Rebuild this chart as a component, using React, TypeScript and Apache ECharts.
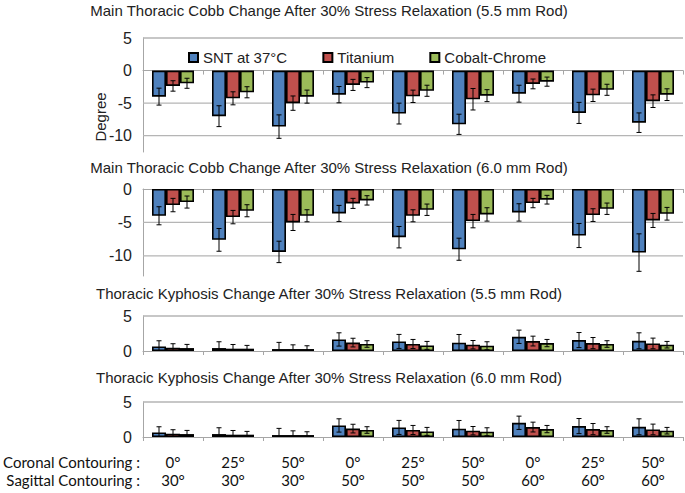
import React, { useEffect, useRef } from 'react';
import * as echarts from 'echarts';

// ---------- data ----------
const coronal = ['0°', '25°', '50°', '0°', '25°', '50°', '0°', '25°', '50°'];
const sagittal = ['30°', '30°', '30°', '50°', '50°', '50°', '60°', '60°', '60°'];
const seriesNames = ['SNT at 37°C', 'Titanium', 'Cobalt-Chrome'];

// Main Thoracic Cobb, 5.5 mm rod
const cobb55Snt = [-4.0, -7.0, -8.6, -3.7, -6.6, -8.25, -3.55, -6.5, -8.0];
const cobb55SntErr = [1.3, 1.6, 1.8, 1.25, 1.6, 1.55, 1.3, 1.62, 1.5];
const cobb55Ti = [-2.36, -4.26, -5.0, -2.2, -3.95, -4.4, -2.05, -3.8, -4.7];
const cobb55TiErr = [0.8, 1.0, 1.1, 0.85, 0.95, 1.65, 0.75, 0.95, 0.97];
const cobb55Cc = [-1.95, -3.33, -4.0, -1.85, -3.1, -3.85, -1.7, -2.95, -3.7];
const cobb55CcErr = [0.77, 0.85, 1.0, 0.77, 0.85, 0.92, 0.7, 0.85, 0.9];

// Main Thoracic Cobb, 6.0 mm rod
const cobb60Snt = [-4.0, -7.6, -9.4, -3.65, -7.2, -9.0, -3.5, -6.95, -9.5];
const cobb60SntErr = [1.35, 1.7, 1.6, 1.2, 1.6, 1.65, 1.3, 1.8, 2.8];
const cobb60Ti = [-2.4, -4.2, -5.0, -2.15, -4.0, -4.8, -2.1, -3.9, -4.7];
const cobb60TiErr = [1.0, 1.0, 1.2, 0.75, 0.9, 1.0, 0.7, 0.95, 1.05];
const cobb60Cc = [-1.95, -3.25, -4.0, -1.7, -3.1, -3.8, -1.6, -2.95, -3.7];
const cobb60CcErr = [0.9, 0.9, 0.9, 0.7, 0.85, 1.0, 0.65, 0.85, 0.95];

// Thoracic Kyphosis, 5.5 mm rod
const kyph55Snt = [0.66, 0.42, 0.28, 1.65, 1.37, 1.18, 2.03, 1.56, 1.46];
const kyph55SntErr = [0.8, 0.9, 0.95, 0.95, 1.0, 1.18, 0.95, 1.08, 1.14];
const kyph55Ti = [0.47, 0.33, 0.28, 1.2, 1.0, 0.9, 1.42, 1.13, 1.08];
const kyph55TiErr = [0.57, 0.6, 0.6, 0.62, 0.65, 0.6, 0.7, 0.8, 0.76];
const kyph55Cc = [0.42, 0.33, 0.28, 1.0, 0.8, 0.75, 1.13, 1.0, 0.9];
const kyph55CcErr = [0.52, 0.47, 0.47, 0.47, 0.57, 0.57, 0.52, 0.47, 0.47];

// Thoracic Kyphosis, 6.0 mm rod
const kyph60Snt = [0.66, 0.42, 0.28, 1.65, 1.37, 1.18, 2.03, 1.56, 1.46];
const kyph60SntErr = [0.8, 0.9, 0.95, 0.95, 1.0, 1.18, 0.95, 1.08, 1.14];
const kyph60Ti = [0.47, 0.33, 0.28, 1.2, 1.0, 0.9, 1.42, 1.13, 1.08];
const kyph60TiErr = [0.57, 0.6, 0.6, 0.62, 0.65, 0.6, 0.7, 0.8, 0.76];
const kyph60Cc = [0.42, 0.33, 0.28, 1.0, 0.8, 0.75, 1.13, 1.0, 0.9];
const kyph60CcErr = [0.52, 0.47, 0.47, 0.47, 0.57, 0.57, 0.52, 0.47, 0.47];

const titles = [
  'Main Thoracic Cobb Change After 30% Stress Relaxation (5.5 mm Rod)',
  'Main Thoracic Cobb Change After 30% Stress Relaxation (6.0 mm Rod)',
  'Thoracic Kyphosis Change After 30% Stress Relaxation (5.5 mm Rod)',
  'Thoracic Kyphosis Change After 30% Stress Relaxation (6.0 mm Rod)',
];
const yTicks = [
  [5, 0, -5, -10],
  [0, -5, -10],
  [0, 5],
  [0, 5],
];
const yRanges = [
  [-12.5, 5],
  [-13, 0],
  [0, 5],
  [0, 5],
];
const rowHeaders = ['Coronal Contouring :', 'Sagittal Contouring :'];

// ---------- styling / layout ----------
const COLORS = ['#4f81bd', '#c0504d', '#9bbb59'];
const GRID_LEFT = 143;
const GRID_WIDTH = 540;
const GRID_TOPS = [38, 189, 316, 402];
const GRID_HEIGHTS = [114, 87, 35, 35];
const TITLE_Y = [10, 167, 293, 377];
const SANS = '"Liberation Sans", Arial, sans-serif';
const CAL = 'Lato, "Open Sans", sans-serif';
const CAT_GAP = 0.3;

export default function App() {
  const ref = useRef<HTMLDivElement>(null);

  useEffect(() => {
    if (!ref.current) return;
    const chart = echarts.init(ref.current, null, { renderer: 'svg' });

    const panels = [
      { vals: [cobb55Snt, cobb55Ti, cobb55Cc], errs: [cobb55SntErr, cobb55TiErr, cobb55CcErr] },
      { vals: [cobb60Snt, cobb60Ti, cobb60Cc], errs: [cobb60SntErr, cobb60TiErr, cobb60CcErr] },
      { vals: [kyph55Snt, kyph55Ti, kyph55Cc], errs: [kyph55SntErr, kyph55TiErr, kyph55CcErr] },
      { vals: [kyph60Snt, kyph60Ti, kyph60Cc], errs: [kyph60SntErr, kyph60TiErr, kyph60CcErr] },
    ];

    const grids: any[] = [];
    const xAxes: any[] = [];
    const yAxes: any[] = [];
    const series: any[] = [];

    panels.forEach((p, gi) => {
      grids.push({ left: GRID_LEFT, width: GRID_WIDTH, top: GRID_TOPS[gi], height: GRID_HEIGHTS[gi] });
      const isLast = gi === panels.length - 1;
      xAxes.push({
        type: 'category',
        gridIndex: gi,
        data: coronal,
        axisLine: { onZero: true, lineStyle: { color: '#a6a6a6', width: 1 } },
        axisTick: { show: true, length: 4, lineStyle: { color: '#a6a6a6' } },
        axisLabel: isLast
          ? {
              show: true,
              margin: 16,
              interval: 0,
              fontFamily: CAL,
              fontSize: 15,
              lineHeight: 18,
              color: '#111',
              formatter: (v: string, i: number) => `${v}\n${sagittal[i]}`,
            }
          : { show: false },
        splitLine: { show: false },
      });
      yAxes.push({
        type: 'value',
        gridIndex: gi,
        min: yRanges[gi][0],
        max: yRanges[gi][1],
        axisLine: { show: true, lineStyle: { color: '#a6a6a6', width: 1 } },
        axisTick: { show: false },
        splitLine: { show: false },
        axisLabel: {
          customValues: yTicks[gi],
          fontFamily: SANS,
          fontSize: 16,
          color: '#222',
          margin: 11,
        },
      });

      // gridlines (behind bars)
      series.push({
        type: 'custom',
        xAxisIndex: gi,
        yAxisIndex: gi,
        silent: true,
        z: 1,
        clip: false,
        data: yTicks[gi].filter((v) => v !== 0).map((v) => [0, v]),
        renderItem: (params: any, api: any) => {
          const y = api.coord([0, api.value(1)])[1];
          const cs = params.coordSys;
          return {
            type: 'line',
            shape: { x1: cs.x, y1: y, x2: cs.x + cs.width, y2: y },
            style: { stroke: '#b5b5b5', lineWidth: 1.3 },
          };
        },
      });

      p.vals.forEach((vals, si) => {
        series.push({
          type: 'bar',
          name: seriesNames[si],
          xAxisIndex: gi,
          yAxisIndex: gi,
          data: vals,
          barGap: '0%',
          barCategoryGap: `${CAT_GAP * 100}%`,
          z: 2,
          itemStyle: { color: COLORS[si], borderColor: '#000', borderWidth: 1.6 },
        });
      });

      p.vals.forEach((vals, si) => {
        const errs = p.errs[si];
        series.push({
          type: 'custom',
          xAxisIndex: gi,
          yAxisIndex: gi,
          silent: true,
          z: 3,
          clip: true,
          data: vals.map((v, i) => [i, v, errs[i]]),
          renderItem: (params: any, api: any) => {
            const xi = api.value(0);
            const v = api.value(1);
            const e = api.value(2);
            const band = api.size([1, 0])[0];
            const bw = (band * (1 - CAT_GAP)) / 3;
            const cx = api.coord([xi, v])[0] + (si - 1) * bw;
            const yt = api.coord([xi, v + e])[1];
            const yb = api.coord([xi, v - e])[1];
            const cap = 2.5;
            const st = { stroke: '#000', lineWidth: 1 };
            return {
              type: 'group',
              children: [
                { type: 'line', shape: { x1: cx, y1: yt, x2: cx, y2: yb }, style: st },
                { type: 'line', shape: { x1: cx - cap, y1: yt, x2: cx + cap, y2: yt }, style: st },
                { type: 'line', shape: { x1: cx - cap, y1: yb, x2: cx + cap, y2: yb }, style: st },
              ],
            };
          },
        });
      });
    });

    const graphics: any[] = titles.map((t, i) => ({
      type: 'text',
      x: 329,
      y: TITLE_Y[i],
      style: {
        text: t,
        font: `15px ${SANS}`,
        fill: '#222',
        textAlign: 'center',
        textVerticalAlign: 'middle',
      },
    }));
    graphics.push({
      type: 'text',
      x: 100,
      y: 117,
      rotation: Math.PI / 2,
      style: {
        text: 'Degree',
        font: `15px ${SANS}`,
        fill: '#222',
        textAlign: 'center',
        textVerticalAlign: 'middle',
      },
    });
    rowHeaders.forEach((h, i) => {
      graphics.push({
        type: 'text',
        x: 140,
        y: 462 + i * 18,
        style: {
          text: h,
          font: `15px ${CAL}`,
          fill: '#111',
          textAlign: 'right',
          textVerticalAlign: 'middle',
        },
      });
    });

    chart.setOption({
      animation: false,
      backgroundColor: '#fff',
      grid: grids,
      xAxis: xAxes,
      yAxis: yAxes,
      legend: {
        data: seriesNames,
        left: 188,
        top: 50,
        padding: 0,
        icon: 'rect',
        itemWidth: 9,
        itemHeight: 9,
        itemGap: 35,
        selectedMode: false,
        textStyle: { fontFamily: SANS, fontSize: 15, color: '#222' },
      },
      graphic: graphics,
      series,
    });

    return () => chart.dispose();
  }, []);

  return (
    <div
      ref={ref}
      style={{ position: 'fixed', left: 0, top: 0, width: 685, height: 493, background: '#fff' }}
    />
  );
}
